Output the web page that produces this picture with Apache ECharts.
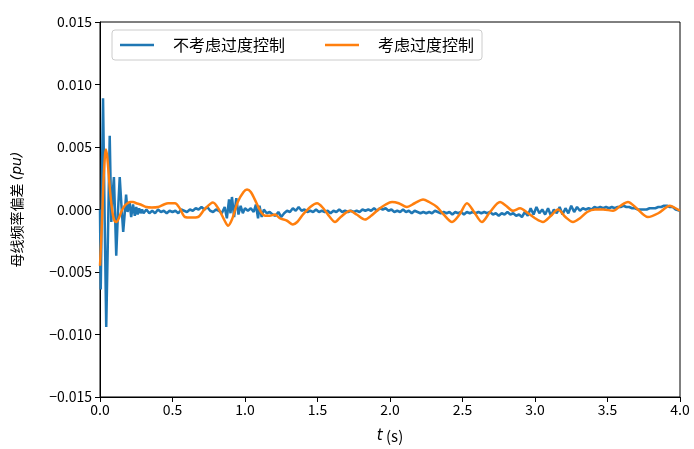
<!DOCTYPE html>
<html>
<head>
<meta charset="utf-8">
<script src="https://cdn.jsdelivr.net/npm/echarts@6/dist/echarts.min.js"></script>
<style>
  html, body { margin: 0; padding: 0; background: #fff; }
  #main { width: 694px; height: 449px; }
</style>
</head>
<body>
<div id="main"></div>
<script>
// 时间 (s) 与频率偏差 (单位 1e-4 pu)
var blueT = [0, 0.005, 0.009, 0.015, 0.021, 0.03, 0.043, 0.055, 0.067, 0.078, 0.087, 0.096, 0.104, 0.112, 0.124, 0.136, 0.148, 0.16, 0.17, 0.18, 0.19, 0.204, 0.215, 0.228, 0.24, 0.25, 0.26, 0.27, 0.28, 0.29,
  0.30, 0.32, 0.34, 0.36, 0.38, 0.40, 0.42, 0.44, 0.46, 0.48, 0.50, 0.52, 0.54, 0.56, 0.58, 0.60, 0.62, 0.64, 0.66, 0.68, 0.70, 0.72, 0.74, 0.76, 0.78, 0.80, 0.82, 0.84,
  0.86, 0.875, 0.89, 0.90, 0.91, 0.925, 0.94, 0.955, 0.97, 0.985, 1.00, 1.02, 1.04, 1.06, 1.075, 1.09, 1.10, 1.115, 1.13, 1.15, 1.17, 1.19, 1.21, 1.23, 1.25, 1.27, 1.29,
  1.31, 1.33, 1.35, 1.37, 1.39, 1.41, 1.43, 1.45, 1.47, 1.49, 1.51, 1.53, 1.55, 1.57, 1.59, 1.61, 1.63, 1.65, 1.67, 1.69, 1.71, 1.73, 1.75, 1.77, 1.79, 1.81, 1.83, 1.85,
  1.87, 1.89, 1.91, 1.93, 1.95, 1.97, 1.99, 2.01, 2.03, 2.05, 2.07, 2.09, 2.11, 2.13, 2.15, 2.17, 2.19, 2.21, 2.23, 2.25, 2.27, 2.29, 2.31, 2.33, 2.35, 2.37, 2.39, 2.41,
  2.43, 2.45, 2.47, 2.49, 2.51, 2.53, 2.55, 2.57, 2.59, 2.61, 2.63, 2.65, 2.67, 2.69, 2.71, 2.73, 2.75, 2.77, 2.79, 2.81, 2.83, 2.85, 2.87, 2.89, 2.91, 2.93, 2.95, 2.97,
  2.99, 3.01, 3.03, 3.05, 3.07, 3.09, 3.11, 3.13, 3.15, 3.17, 3.19, 3.21, 3.23, 3.25, 3.27, 3.29, 3.31, 3.33, 3.35, 3.37, 3.39, 3.41, 3.43, 3.45, 3.47, 3.49, 3.51, 3.53,
  3.55, 3.57, 3.59, 3.61, 3.63, 3.65, 3.67, 3.69, 3.71, 3.73, 3.75, 3.77, 3.79, 3.81, 3.83, 3.85, 3.87, 3.89, 3.91, 3.93, 3.95, 3.97, 4.00];
var blueV = [0, -64, -30, 40, 89, 10, -94, -20, 59, -10, 12, 26, -5, -37, -2, 26, 3, -18, -4, 12, -2, 6, -6, 4, -5, 2, -4, 1, -3, 0,
  -3, 0, -3, -1, -3, 0, -2, -1, -3, -1, -2, -1, -3, 0, -1, -2, 0, -1, 1, 0, 2, 0, 2, -1, -2, 0, -1, -3,
  2, -7, 8, -3, 10, -6, 9, -4, 3, -3, 1, -1, 1, -2, 4, -7, 3, -6, 0, -3, -2, -4, -5, -2, -6, -3, -1,
  -2, 1, -1, 2, -1, 0, -2, -1, -2, 0, -2, -1, -2, -1, -3, -1, -2, 0, -2, -1, -2, -1, -2, -1, -2, 0, -1, 0,
  -1, 1, -1, 1, 0, 1, -1, 0, -2, -1, -2, 0, -2, -1, -3, -1, -2, -3, -2, -3, -2, -3, -1, -2, -3, -2, -3, -2,
  -4, -2, -3, -2, -4, -2, -3, -2, -3, -2, -3, -2, -3, -2, -4, -3, -5, -3, -4, -2, -4, -3, -5, -4, -6, -2, -5, 1,
  -4, 2, -3, 0, -4, 1, -5, 0, -3, 2, -4, 1, -3, 3, -2, 2, -1, 1, 0, 1, 0, 2, 1, 2, 1, 2, 1, 2,
  1, 2, 2, 3, 2, 2, 1, 1, 0, 0, 0, 0, 1, 1, 1, 2, 2, 3, 3, 2, 2, 0, -1];

var orangeT = [0, 0.006, 0.015, 0.025, 0.035, 0.041, 0.05, 0.06, 0.07, 0.08, 0.09, 0.1, 0.115, 0.13, 0.15, 0.17, 0.19, 0.21, 0.228, 0.25, 0.28, 0.32, 0.357, 0.4, 0.44, 0.47,
  0.517, 0.55, 0.586, 0.63, 0.676, 0.72, 0.779, 0.82, 0.86, 0.883, 0.91, 0.95, 0.99, 1.014, 1.04, 1.08, 1.11, 1.14, 1.17, 1.207, 1.24, 1.29, 1.33, 1.36, 1.40, 1.45,
  1.497, 1.54, 1.585, 1.621, 1.66, 1.724, 1.77, 1.828, 1.87, 1.92, 1.97, 2.014, 2.06, 2.117, 2.17, 2.228, 2.27, 2.324, 2.37, 2.428, 2.48, 2.531, 2.58, 2.634, 2.69,
  2.759, 2.80, 2.848, 2.897, 2.952, 3.0, 3.055, 3.11, 3.159, 3.21, 3.262, 3.31, 3.36, 3.414, 3.47, 3.538, 3.59, 3.641, 3.70, 3.779, 3.85, 3.931, 3.97, 4.0];
var orangeV = [-45, -30, -5, 25, 44, 48, 42, 28, 14, 3, -5, -9, -10, -7, -1, 3, 5, 6, 6, 5, 4, 2, 1.6, 2, 4, 5,
  5, 1, -6, -6.5, -6, 0, 5.6, 0, -9, -13, -8, 6, 14, 16, 14, 5, -2, -5, -5, -4, -7, -9, -12, -10, -4, 2,
  5, 1, -6, -10, -6, -1, -4, -8, -5, 0, 4, 6, 5, 2, 5, 8, 6, 2, -4, -10, -4, 5, -2, -10, -2,
  6, 3, -1, 1, -3, -7, -10, -5, 0, -6, -10, -7, -2, 0, 0, -1, 3, 6, 1, -6, -3, 3, 1, -1];

var xTicks = [0, 0.5, 1.0, 1.5, 2.0, 2.5, 3.0, 3.5, 4.0];
var yTicks = [-0.015, -0.010, -0.005, 0, 0.005, 0.010, 0.015];

function pairs(t, v) {
  return t.map(function (x, i) { return [x, v[i] * 1e-4]; });
}

var myChart = echarts.init(document.getElementById('main'));
var font = '"Noto Sans CJK SC", "DejaVu Sans", sans-serif';

option = {
  animation: false,
  backgroundColor: '#fff',
  textStyle: { fontFamily: font },
  grid: {
    left: 100,
    right: 14,
    top: 22,
    bottom: 51,
    show: true,
    borderColor: '#000',
    borderWidth: 1,
    containLabel: false
  },
  legend: {
    left: 112,
    top: 30,
    padding: [7, 8, 7, 8],
    itemGap: 40,
    itemWidth: 34,
    itemHeight: 2.5,
    icon: 'rect',
    borderColor: '#cccccc',
    borderWidth: 1,
    borderRadius: 3,
    textStyle: { fontSize: 16, color: '#000', fontFamily: font, padding: [0, 0, 0, 14] },
    data: ['不考虑过度控制', '考虑过度控制']
  },
  xAxis: {
    type: 'value',
    min: xTicks[0],
    max: xTicks[xTicks.length - 1],
    interval: 0.5,
    name: '{i|t} (s)',
    nameLocation: 'middle',
    nameGap: 32,
    nameTextStyle: {
      fontSize: 15, color: '#000', fontFamily: font,
      rich: { i: { fontStyle: 'italic', fontSize: 15, fontFamily: 'DejaVu Sans' } }
    },
    axisLine: { show: true, onZero: false, lineStyle: { color: '#000', width: 1 } },
    axisTick: { show: true, inside: false, length: 5, lineStyle: { color: '#000' } },
    splitLine: { show: false },
    axisLabel: {
      fontSize: 14, color: '#000', margin: 6,
      formatter: function (v) { return v.toFixed(1); }
    }
  },
  yAxis: {
    type: 'value',
    min: yTicks[0],
    max: yTicks[yTicks.length - 1],
    interval: 0.005,
    name: '母线频率偏差 {i|(pu)}',
    nameLocation: 'middle',
    nameGap: 76,
    nameTextStyle: {
      fontSize: 14, color: '#000', fontFamily: font,
      rich: { i: { fontStyle: 'italic', fontSize: 14, fontFamily: 'DejaVu Sans' } }
    },
    axisLine: { show: true, onZero: false, lineStyle: { color: '#000', width: 1 } },
    axisTick: { show: true, inside: false, length: 5, lineStyle: { color: '#000' } },
    splitLine: { show: false },
    axisLabel: {
      fontSize: 14, color: '#000', margin: 8,
      formatter: function (v) {
        var s = Math.abs(v).toFixed(3);
        return v < -1e-9 ? '\u2212' + s : s;
      }
    }
  },
  series: [
    {
      name: '不考虑过度控制',
      type: 'line',
      symbol: 'none',
      data: pairs(blueT, blueV),
      lineStyle: { color: '#1f77b4', width: 2.5 },
      itemStyle: { color: '#1f77b4' }
    },
    {
      name: '考虑过度控制',
      type: 'line',
      symbol: 'none',
      smooth: 0.3,
      data: pairs(orangeT, orangeV),
      lineStyle: { color: '#ff7f0e', width: 2.5 },
      itemStyle: { color: '#ff7f0e' }
    }
  ]
};
myChart.setOption(option);
</script>
</body>
</html>
